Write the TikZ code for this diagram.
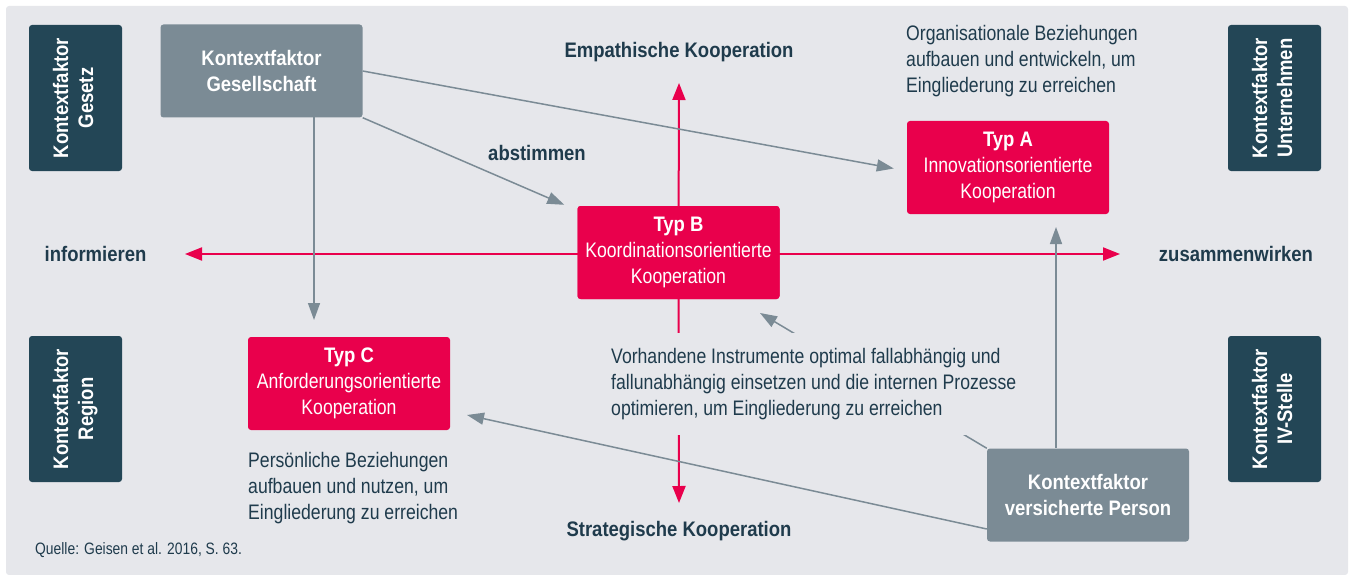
\documentclass[tikz,border=0pt]{standalone}
\usepackage{fontspec}
\setmainfont{Liberation Sans}[FakeStretch=0.84,BoldFeatures={FakeStretch=0.88}]
\usetikzlibrary{arrows.meta,calc}
\definecolor{bgc}{HTML}{E6E7EB}
\definecolor{darkc}{HTML}{234656}
\definecolor{grayc}{HTML}{7B8B95}
\definecolor{redc}{HTML}{E9004C}
\definecolor{txtc}{HTML}{1F3B4C}
\begin{document}
\begin{tikzpicture}[x=1pt,y=-1pt,
  every node/.style={font=\fontsize{21}{26}\selectfont},
  darkbox/.style={fill=darkc,rounded corners=3pt,minimum width=93pt,minimum height=146pt,text=white,align=center,font=\fontsize{21}{26}\selectfont\bfseries,inner sep=0pt},
  graybox/.style={fill=grayc,rounded corners=3pt,minimum width=202pt,minimum height=93pt,text=white,align=center,font=\fontsize{21}{26}\selectfont\bfseries,inner sep=0pt},
  typbox/.style={fill=redc,rounded corners=3pt,minimum width=202pt,minimum height=93pt,text=white,align=center,inner sep=0pt},
  head/.style={text=txtc,font=\fontsize{21}{26}\selectfont\bfseries,inner sep=0pt},
  body/.style={text=txtc,align=left,inner sep=0pt},
  redarrow/.style={draw=redc,line width=2pt,-{Triangle[length=17pt,width=13pt]}},
  grayarrow/.style={draw=grayc,line width=1.5pt,-{Triangle[length=17pt,width=12pt]}},
  grayline/.style={draw=grayc,line width=1.5pt}
]
\useasboundingbox (0,0) rectangle (1352,575);
\fill[bgc,rounded corners=3pt] (6,6) rectangle (1348,575);

% nodes
\node[typbox] (tB) at (678.5,252.5) {};
\coordinate (upTip) at (679,83);
\coordinate (downTip) at (679,503);
\coordinate (leftTip) at (185,254);
\coordinate (rightTip) at (1120,254);
\draw[redarrow] (tB.center) -- (upTip);
\draw[redarrow] (tB.center) -- (downTip);
\draw[redarrow] (tB.center |- leftTip) -- (leftTip);
\draw[redarrow] (tB.center |- rightTip) -- (rightTip);

\node[graybox] (gs) at (261.5,71) {Kontextfaktor\\Gesellschaft};
\node[graybox] (person) at (1088,495) {Kontextfaktor\\versicherte Person};
\node[typbox] (tA) at (1008,167.5) {\textbf{Typ A}\\Innovationsorientierte\\Kooperation};
\node[typbox] (tC) at (349,383.5) {\textbf{Typ C}\\Anforderungsorientierte\\Kooperation};

\node[darkbox] (gesetz) at (75.5,98) {\rotatebox{90}{\begin{tabular}{@{}c@{}}Kontextfaktor\\[-1pt]Gesetz\end{tabular}}};
\node[darkbox] (unternehmen) at (1274.5,98) {\rotatebox{90}{\begin{tabular}{@{}c@{}}Kontextfaktor\\[-1pt]Unternehmen\end{tabular}}};
\node[darkbox] (region) at (75.5,409) {\rotatebox{90}{\begin{tabular}{@{}c@{}}Kontextfaktor\\[-1pt]Region\end{tabular}}};
\node[darkbox] (ivstelle) at (1274.5,409) {\rotatebox{90}{\begin{tabular}{@{}c@{}}Kontextfaktor\\[-1pt]IV-Stelle\end{tabular}}};

% gray connectors
\coordinate (cTip) at (467,415);
\coordinate (bTip) at (760,313);
\coordinate (gsLow) at (314,117);
\coordinate (psUp) at (1056,448);
\draw[grayarrow] (gs.east) -- ($(tA.west)+(-13,1)$);
\draw[grayarrow] (gs.south east) -- ($(tB.north west)+(-13,-1)$);
\draw[grayarrow] (gsLow) -- (gsLow |- 0,320);
\draw[grayarrow] (psUp) -- (psUp |- 0,227);
\draw[grayarrow] ($(person.west)+(0,34)$) -- (cTip);
\draw[grayarrow] (person.north west) -- (bTip);

% redraw Typ B on top with text
\node[typbox] at (tB.center) {\textbf{Typ B}\\Koordinationsorientierte\\Kooperation};

% labels
\node[head] (emp) at (679,52) {Empathische Kooperation};
\node[head] (strat) at (679,531) {Strategische Kooperation};
\node[head] (inf) at (95.5,254) {informieren};
\node[head] (zus) at (1236,254) {zusammenwirken};
\node[head] (abst) at (537,153) {abstimmen};

\node[body,anchor=west] (org) at (906,61.5) {Organisationale Beziehungen\\aufbauen und entwickeln, um\\Eingliederung zu erreichen};
\node[body,anchor=west,fill=bgc,inner xsep=8pt,minimum height=102pt] (vorh) at (603,384) {Vorhandene Instrumente optimal fallabhängig und\\fallunabhängig einsetzen und die internen Prozesse\\optimieren, um Eingliederung zu erreichen};
\node[body,anchor=west] (pers) at (248,488) {Persönliche Beziehungen\\aufbauen und nutzen, um\\Eingliederung zu erreichen};
\node[body,anchor=west,font=\fontsize{16.5}{20}\selectfont] (quelle) at (35,550) {Quelle: Geisen et al. 2016, S. 63.};
\end{tikzpicture}
\end{document}
